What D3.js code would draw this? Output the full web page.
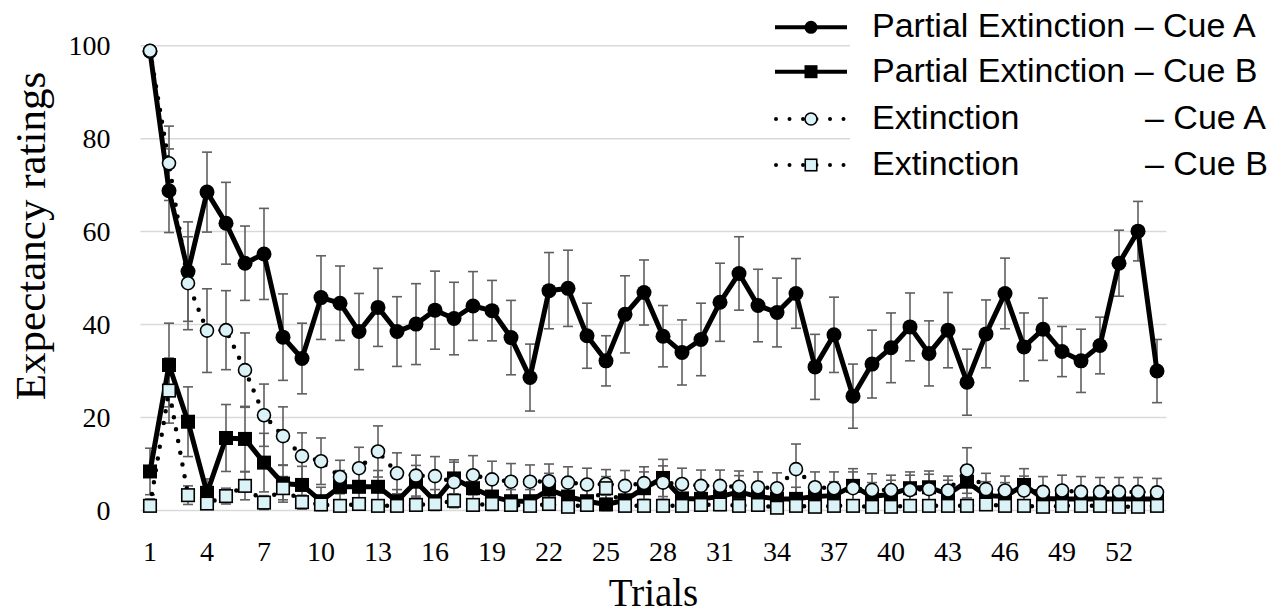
<!DOCTYPE html>
<html>
<head>
<meta charset="utf-8">
<script src="https://cdn.jsdelivr.net/npm/d3@7"></script>
<style>
  body { margin: 0; background: #fff; }
  svg { display: block; }
</style>
</head>
<body>
<svg id="chart" width="1272" height="615"></svg>
<script>
// Trial numbers and labelled ticks
const trials = d3.range(1, 55);
const xTickLabels = [1, 4, 7, 10, 13, 16, 19, 22, 25, 28, 31, 34, 37, 40, 43, 46, 49, 52];
const yTicks = [0, 20, 40, 60, 80, 100];

// Partial Extinction – Cue A (mean, SEM)
const peCueA = [98.8, 68.8, 51.4, 68.5, 61.8, 53.2, 55.2, 37.3, 32.7, 45.8,
  44.6, 38.5, 43.7, 38.5, 40.1, 43.1, 41.3, 44.0, 43.0, 37.2,
  28.6, 47.3, 47.8, 37.6, 32.2, 42.2, 46.9, 37.5, 34.0, 36.8,
  44.8, 51.0, 44.1, 42.6, 46.7, 30.9, 37.8, 24.6, 31.5, 35.0,
  39.5, 33.8, 38.8, 27.6, 38.0, 46.7, 35.2, 39.0, 34.2, 32.2,
  35.5, 53.2, 60.1, 30.0];
const peCueAErr = [1.0, 9.0, 10.7, 8.6, 8.8, 8.0, 9.8, 9.3, 7.6, 9.0,
  8.0, 8.2, 8.4, 7.5, 8.7, 8.4, 7.8, 7.4, 6.5, 8.0,
  7.2, 8.2, 8.2, 7.0, 5.4, 8.3, 7.0, 6.6, 7.0, 7.8,
  8.4, 7.9, 7.8, 7.4, 7.5, 7.0, 8.1, 6.9, 7.3, 7.5,
  7.3, 7.0, 8.1, 7.1, 7.3, 7.6, 7.3, 6.7, 5.4, 6.8,
  6.1, 7.1, 6.4, 6.8];

// Partial Extinction – Cue B
const peCueB = [8.4, 31.3, 19.1, 3.8, 15.6, 15.4, 10.3, 5.8, 5.5, 2.0,
  5.1, 5.1, 5.1, 2.0, 6.2, 2.0, 6.9, 4.8, 3.0, 2.0,
  2.0, 4.5, 3.0, 2.0, 1.3, 2.2, 4.8, 7.0, 2.6, 2.5,
  3.0, 4.0, 3.0, 2.5, 2.5, 3.0, 3.2, 5.3, 3.0, 3.5,
  4.8, 5.0, 3.5, 6.2, 3.2, 3.0, 5.5, 2.6, 2.5, 2.5,
  2.5, 2.5, 2.5, 2.5];
const peCueBErr = [5.0, 9.0, 7.5, 3.0, 7.2, 7.0, 6.3, 4.0, 4.0, 3.0,
  3.5, 3.5, 3.5, 2.5, 3.5, 2.5, 3.5, 3.5, 3.0, 2.5,
  2.5, 3.5, 3.0, 2.5, 2.0, 2.5, 3.5, 4.0, 2.5, 2.5,
  3.0, 3.5, 3.0, 2.5, 2.5, 3.0, 3.0, 3.7, 3.0, 3.0,
  3.5, 3.5, 3.0, 3.5, 3.0, 3.0, 3.5, 2.5, 2.5, 2.5,
  2.5, 2.5, 2.5, 2.5];

// Extinction – Cue A
const exCueA = [98.9, 74.7, 48.9, 38.7, 38.8, 30.2, 20.5, 16.0, 11.7, 10.6,
  7.2, 9.1, 12.7, 8.0, 7.5, 7.4, 6.1, 7.6, 6.7, 6.2,
  6.2, 6.3, 6.0, 5.6, 5.7, 5.3, 5.9, 6.0, 5.7, 5.3,
  5.3, 5.1, 5.0, 4.8, 8.9, 5.0, 4.8, 4.8, 4.4, 4.4,
  4.4, 4.6, 4.3, 8.6, 4.6, 4.3, 4.3, 4.0, 4.3, 4.0,
  4.0, 4.0, 4.0, 3.9];
const exCueAErr = [1.0, 8.0, 10.0, 9.0, 8.5, 8.0, 6.7, 6.3, 5.0, 5.0,
  3.6, 4.5, 5.5, 4.4, 4.4, 4.2, 4.8, 4.2, 3.9, 3.9,
  3.6, 3.7, 3.4, 3.5, 3.1, 3.3, 3.5, 3.6, 3.4, 3.4,
  3.4, 3.4, 3.3, 3.3, 5.4, 3.3, 3.5, 3.5, 3.5, 3.2,
  3.2, 3.2, 3.1, 4.9, 3.4, 3.1, 3.1, 3.3, 3.3, 3.3,
  3.1, 3.1, 3.1, 3.0];

// Extinction – Cue B
const exCueB = [1.0, 25.8, 3.3, 1.5, 3.1, 5.3, 1.7, 4.8, 1.8, 1.3,
  1.0, 1.4, 1.0, 1.0, 1.2, 1.4, 2.1, 1.2, 1.4, 1.2,
  1.0, 1.4, 0.8, 1.2, 4.8, 1.0, 1.0, 1.0, 1.0, 1.2,
  1.3, 1.0, 1.2, 0.6, 1.0, 0.8, 1.0, 1.0, 0.8, 0.8,
  1.0, 1.0, 1.0, 1.0, 1.3, 1.0, 1.0, 0.8, 1.0, 1.0,
  1.0, 0.8, 0.8, 1.0];
const exCueBErr = [1.5, 7.0, 2.0, 1.2, 1.7, 3.0, 1.5, 2.5, 1.5, 1.2,
  1.0, 1.2, 1.0, 1.0, 1.0, 1.2, 1.5, 1.0, 1.0, 1.0,
  1.0, 1.0, 0.8, 1.0, 2.5, 1.0, 1.0, 1.0, 1.0, 1.0,
  1.0, 1.0, 1.0, 0.8, 1.0, 0.8, 1.0, 1.0, 0.8, 0.8,
  1.0, 1.0, 1.0, 1.0, 1.0, 1.0, 1.0, 0.8, 1.0, 1.0,
  1.0, 0.8, 0.8, 1.0];

const legendLabels = [
  ["Partial Extinction \u2013 Cue A", null],
  ["Partial Extinction \u2013 Cue B", null],
  ["Extinction", "\u2013 Cue A"],
  ["Extinction", "\u2013 Cue B"]
];

const SERIF = "'Liberation Serif', 'Times New Roman', serif";
const SANS = "'Liberation Sans', Arial, sans-serif";

const svg = d3.select("#chart");
const plotLeft = 140.5, plotRight = 1166.5, plotTop = 45.7, plotBottom = 510.5;

const x = d3.scaleBand().domain(trials).range([plotLeft, plotRight]);
const cx = t => x(t) + x.bandwidth() / 2;
const y = d3.scaleLinear().domain([0, 100]).range([plotBottom, plotTop]);

// horizontal gridlines
svg.append("g").selectAll("line").data(yTicks).join("line")
  .attr("x1", plotLeft).attr("x2", plotRight)
  .attr("y1", d => y(d)).attr("y2", d => y(d))
  .attr("stroke", "#d9d9d9").attr("stroke-width", 1.5);

// axes (labels only)
const yAxis = svg.append("g").attr("transform", `translate(${plotLeft},0)`)
  .call(d3.axisLeft(y).tickValues(yTicks).tickSize(0).tickPadding(30));
const xAxis = svg.append("g").attr("transform", `translate(0,${plotBottom})`)
  .call(d3.axisBottom(x).tickValues(xTickLabels).tickSize(0).tickPadding(31));
[yAxis, xAxis].forEach(a => {
  a.attr("font-family", SERIF).attr("font-size", 28);
  a.select(".domain").remove();
  a.selectAll(".tick text")
    .style("font-family", SERIF)
    .style("font-size", "28px")
    .attr("fill", "#000");
});

// axis titles
svg.append("text")
  .attr("transform", "translate(45,236) rotate(-90)")
  .attr("text-anchor", "middle")
  .style("font-family", SERIF).style("font-size", "43px")
  .text("Expectancy ratings");
svg.append("text")
  .attr("x", (plotLeft + plotRight) / 2).attr("y", 606)
  .attr("text-anchor", "middle")
  .style("font-family", SERIF).style("font-size", "39px")
  .text("Trials");

const series = [
  { vals: peCueA, err: peCueAErr, dotted: false, shape: "circle", fill: "#000" },
  { vals: peCueB, err: peCueBErr, dotted: false, shape: "square", fill: "#000" },
  { vals: exCueA, err: exCueAErr, dotted: true, shape: "circle", fill: "#dbf3f7" },
  { vals: exCueB, err: exCueBErr, dotted: true, shape: "square", fill: "#dbf3f7" }
];

// error bars
const errG = svg.append("g").attr("stroke", "#5f5f5f").attr("stroke-width", 1.6);
series.forEach(s => {
  const g = errG.append("g");
  trials.forEach((t, i) => {
    const hi = y(s.vals[i] + s.err[i]), lo = y(Math.max(0, s.vals[i] - s.err[i]));
    g.append("line").attr("x1", cx(t)).attr("x2", cx(t)).attr("y1", hi).attr("y2", lo);
    g.append("line").attr("x1", cx(t) - 5).attr("x2", cx(t) + 5).attr("y1", hi).attr("y2", hi);
    g.append("line").attr("x1", cx(t) - 5).attr("x2", cx(t) + 5).attr("y1", lo).attr("y2", lo);
  });
});

const line = d3.line().x((d, i) => cx(trials[i])).y(d => y(d));

function drawMarker(g, shape, fill, px, py, big) {
  if (shape === "circle") {
    const r = fill === "#000" ? (big ? 7.5 : 6.5) : (big ? 6.5 : 6);
    g.append("circle").attr("cx", px).attr("cy", py).attr("r", r)
      .attr("fill", fill).attr("stroke", "#000").attr("stroke-width", fill === "#000" ? 0 : 1.6);
  } else {
    const s = fill === "#000" ? (big ? 14 : 13) : (big ? 12.5 : 11.5);
    g.append("rect").attr("x", px - s / 2).attr("y", py - s / 2).attr("width", s).attr("height", s)
      .attr("fill", fill).attr("stroke", "#000").attr("stroke-width", fill === "#000" ? 0 : 1.6);
  }
}

series.forEach(s => {
  const g = svg.append("g");
  const p = g.append("path").attr("d", line(s.vals)).attr("fill", "none")
    .attr("stroke", "#000").attr("stroke-linejoin", "round");
  if (s.dotted) {
    p.attr("stroke-width", 4.5).attr("stroke-linecap", "round").attr("stroke-dasharray", "0,12");
  } else {
    p.attr("stroke-width", 5);
  }
  trials.forEach((t, i) => drawMarker(g, s.shape, s.fill, cx(t), y(s.vals[i]), true));
});

// legend
svg.append("rect").attr("x", 850).attr("y", 2).attr("width", 422).attr("height", 190).attr("fill", "#fff");
const legRows = [27.3, 71.7, 119, 165];
series.forEach((s, i) => {
  const g = svg.append("g");
  const ly = legRows[i];
  const l = g.append("line").attr("x1", 775).attr("x2", 847).attr("y1", ly).attr("y2", ly)
    .attr("stroke", "#000");
  if (s.dotted) {
    l.attr("x1", 776).attr("stroke-width", 4).attr("stroke-linecap", "round").attr("stroke-dasharray", "0,13.5");
  } else {
    l.attr("stroke-width", 4);
  }
  drawMarker(g, s.shape, s.fill, 811, ly, false);
  g.append("text").attr("x", 872).attr("y", ly + 10)
    .style("font-family", SANS).style("font-size", "34px").text(legendLabels[i][0]);
  if (legendLabels[i][1]) {
    g.append("text").attr("x", 1145).attr("y", ly + 10)
      .style("font-family", SANS).style("font-size", "34px").text(legendLabels[i][1]);
  }
});
</script>
</body>
</html>
